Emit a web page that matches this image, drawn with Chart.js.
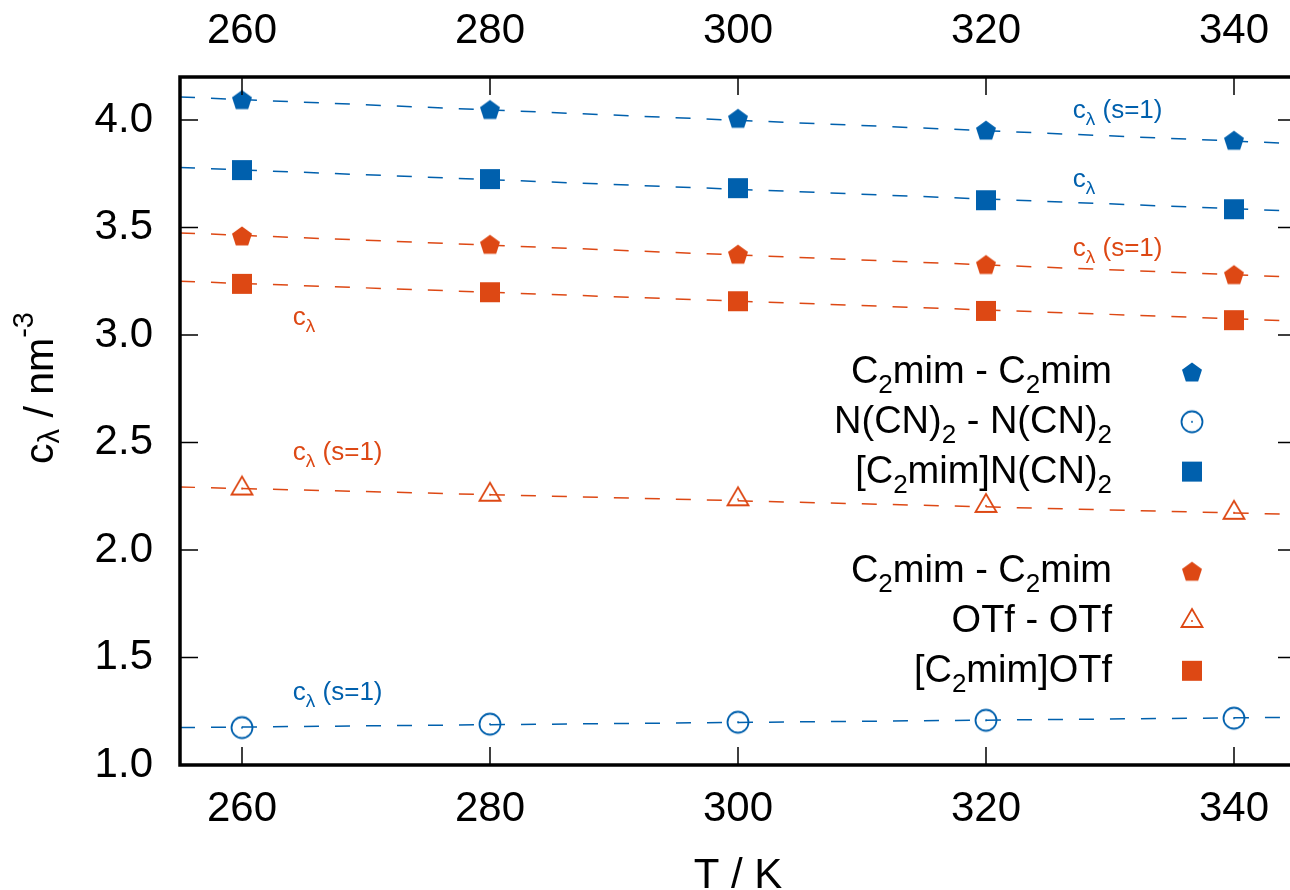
<!DOCTYPE html>
<html>
<head>
<meta charset="utf-8">
<script src="https://cdn.jsdelivr.net/npm/chart.js@4.4.1/dist/chart.umd.min.js"></script>
<style>
html, body { margin:0; padding:0; background:#fff; overflow:hidden; }
#wrap { position:relative; width:1290px; height:890px; }
#chart { display:block; }
</style>
</head>
<body>
<div id="wrap"><canvas id="chart" width="1290" height="890"></canvas></div>
<script>
// -----------------------------
// Data
// -----------------------------
const temps = [260, 280, 300, 320, 340];
const xTicks = [260, 280, 300, 320, 340];
const yTicks = [1.0, 1.5, 2.0, 2.5, 3.0, 3.5, 4.0];

// [C2mim]N(CN)2
const ncnCatCat = [4.095, 4.049, 4.008, 3.953, 3.906];
const ncnAnAn = [1.174, 1.190, 1.199, 1.208, 1.218];
const ncnSalt = [3.767, 3.725, 3.683, 3.627, 3.585];

// [C2mim]OTf
const otfCatCat = [3.461, 3.422, 3.376, 3.328, 3.281];
const otfAnAn = [2.286, 2.257, 2.236, 2.205, 2.173];
const otfSalt = [3.238, 3.199, 3.157, 3.112, 3.069];

// fit lines, values read at T = 255 and T = 345
const fitT = [255, 345];
const ncnCatCatFit = [4.107, 3.890];
const ncnAnAnFit = [1.174, 1.222];
const ncnSaltFit = [3.779, 3.576];
const otfCatCatFit = [3.475, 3.269];
const otfAnAnFit = [2.293, 2.165];
const otfSaltFit = [3.250, 3.065];

// the plot runs to 345 K, its right edge lies just outside the picture
const X_MIN = 255, X_FRAME_MAX = 345;
const FRAME_RIGHT = 1296;

const BLUE = "#0060ad";
const ORANGE = "#dd4814";
const FONT = "'Liberation Sans', Arial, Helvetica, sans-serif";

// -----------------------------
// Marker images
// -----------------------------
function makeMarker(kind, color) {
  const c = document.createElement("canvas");
  c.width = 30; c.height = 30;
  const g = c.getContext("2d");
  const cx = 15, cy = 15;
  g.fillStyle = color;
  g.strokeStyle = color;
  g.lineWidth = 1.8;
  if (kind === "pentagon") {
    g.beginPath();
    for (let k = 0; k < 5; k++) {
      const a = -Math.PI / 2 + k * 2 * Math.PI / 5;
      const px = cx + 10.5 * Math.cos(a), py = cy + 1 + 10.5 * Math.sin(a);
      if (k === 0) g.moveTo(px, py); else g.lineTo(px, py);
    }
    g.closePath();
    g.fill();
  } else if (kind === "square") {
    g.fillRect(cx - 10, cy - 10, 20, 20);
  } else if (kind === "circle") {
    g.beginPath();
    g.arc(cx, cy, 10.5, 0, Math.PI * 2);
    g.stroke();
    g.beginPath();
    g.arc(cx, cy, 1, 0, Math.PI * 2);
    g.fill();
  } else if (kind === "triangle") {
    g.beginPath();
    g.moveTo(cx, cy - 12);
    g.lineTo(cx + 10.5, cy + 6);
    g.lineTo(cx - 10.5, cy + 6);
    g.closePath();
    g.stroke();
    g.beginPath();
    g.arc(cx, cy, 1, 0, Math.PI * 2);
    g.fill();
  }
  return c;
}

const markers = {
  bluePent: makeMarker("pentagon", BLUE),
  blueCirc: makeMarker("circle", BLUE),
  blueSq: makeMarker("square", BLUE),
  orPent: makeMarker("pentagon", ORANGE),
  orTri: makeMarker("triangle", ORANGE),
  orSq: makeMarker("square", ORANGE)
};

function pts(xs, ys) {
  return xs.map((x, i) => ({ x: x, y: ys[i] }));
}

function markerSet(values, marker) {
  return {
    data: pts(temps, values),
    showLine: false,
    pointStyle: marker,
    pointRadius: 10,
    pointHoverRadius: 10
  };
}

function fitSet(values, color) {
  return {
    data: pts(fitT, values),
    showLine: true,
    borderColor: color,
    borderWidth: 1.5,
    borderDash: [15, 16],
    pointRadius: 0,
    pointHoverRadius: 0,
    clip: { left: 0, top: 0, right: 30, bottom: 0 }
  };
}

// -----------------------------
// Rich text helpers (sub / superscripts)
// -----------------------------
function richWidth(ctx, parts) {
  let w = 0;
  parts.forEach(p => {
    ctx.font = p[1] + "px " + FONT;
    w += ctx.measureText(p[0]).width;
  });
  return w;
}

function drawRich(ctx, parts, x, y, align, color) {
  const w = richWidth(ctx, parts);
  let cx = align === "right" ? x - w : (align === "center" ? x - w / 2 : x);
  ctx.fillStyle = color;
  ctx.textAlign = "left";
  ctx.textBaseline = "alphabetic";
  parts.forEach(p => {
    ctx.font = p[1] + "px " + FONT;
    ctx.fillText(p[0], cx, y + (p[2] || 0));
    cx += ctx.measureText(p[0]).width;
  });
}

const cl = [["c", 26], ["\u03bb", 19, 7]];
const clS1 = [["c", 26], ["\u03bb", 19, 7], [" (s=1)", 26]];

// annotation labels: [T, c, parts, colour]
const notes = [
  [327.0, 4.009, clS1, BLUE],
  [327.0, 3.688, cl, BLUE],
  [327.0, 3.367, clS1, ORANGE],
  [264.1, 3.047, cl, ORANGE],
  [264.1, 2.419, clS1, ORANGE],
  [264.1, 1.302, clS1, BLUE]
];

const legendRows = [
  [[["C", 38], ["2", 26, 10], ["mim - C", 38], ["2", 26, 10], ["mim", 38]], "bluePent"],
  [[["N(CN)", 38], ["2", 26, 10], [" - N(CN)", 38], ["2", 26, 10]], "blueCirc"],
  [[["[C", 38], ["2", 26, 10], ["mim]N(CN)", 38], ["2", 26, 10]], "blueSq"],
  null,
  [[["C", 38], ["2", 26, 10], ["mim - C", 38], ["2", 26, 10], ["mim", 38]], "orPent"],
  [[["OTf - OTf", 38]], "orTri"],
  [[["[C", 38], ["2", 26, 10], ["mim]OTf", 38]], "orSq"]
];

const framePlugin = {
  id: "frame",
  afterDatasetsDraw(chart) {
    const ctx = chart.ctx;
    const a = chart.chartArea;
    const sx = chart.scales.x, sy = chart.scales.y;
    const right = sx.getPixelForValue(X_FRAME_MAX);
    ctx.save();
    ctx.strokeStyle = "#000";
    ctx.lineWidth = 1.5;
    ctx.beginPath();
    xTicks.forEach(v => {
      const px = sx.getPixelForValue(v);
      ctx.moveTo(px, a.bottom); ctx.lineTo(px, a.bottom - 18);
      ctx.moveTo(px, a.top); ctx.lineTo(px, a.top + 18);
    });
    yTicks.forEach(v => {
      const py = sy.getPixelForValue(v);
      ctx.moveTo(a.left, py); ctx.lineTo(a.left + 18, py);
      ctx.moveTo(right, py); ctx.lineTo(right - 18, py);
    });
    ctx.stroke();
    ctx.lineWidth = 3.5;
    ctx.strokeRect(a.left, a.top, right - a.left, a.bottom - a.top);
    ctx.restore();
  },
  afterDraw(chart) {
    const ctx = chart.ctx;
    const a = chart.chartArea;
    const sx = chart.scales.x, sy = chart.scales.y;
    const right = sx.getPixelForValue(X_FRAME_MAX);
    ctx.save();
    // annotations
    notes.forEach(n => {
      drawRich(ctx, n[2], sx.getPixelForValue(n[0]), sy.getPixelForValue(n[1]), "left", n[3]);
    });
    // legend
    legendRows.forEach((row, i) => {
      if (!row) return;
      const base = 383 + i * 49.8;
      drawRich(ctx, row[0], 1112, base, "right", "#000");
      const m = markers[row[1]];
      ctx.drawImage(m, 1192 - m.width / 2, base - 11 - m.height / 2);
    });
    // axis titles
    drawRich(ctx, [["T / K", 42]], (a.left + right) / 2, 888, "center", "#000");
    ctx.translate(53, 388);
    ctx.rotate(-Math.PI / 2);
    drawRich(ctx, [["c", 41], ["\u03bb", 29, 6], [" / nm", 41], ["-3", 29, -20]], 0, 0, "center", "#000");
    ctx.restore();
  }
};

const tickFont = { family: FONT, size: 42 };

function noPad(s) {
  s.paddingLeft = 0; s.paddingRight = 0; s.paddingTop = 0; s.paddingBottom = 0;
}

const chart = new Chart(document.getElementById("chart"), {
  type: "scatter",
  data: {
    datasets: [
      markerSet(ncnCatCat, markers.bluePent),
      markerSet(ncnAnAn, markers.blueCirc),
      markerSet(ncnSalt, markers.blueSq),
      markerSet(otfCatCat, markers.orPent),
      markerSet(otfAnAn, markers.orTri),
      markerSet(otfSalt, markers.orSq),
      fitSet(ncnCatCatFit, BLUE),
      fitSet(ncnAnAnFit, BLUE),
      fitSet(ncnSaltFit, BLUE),
      fitSet(otfCatCatFit, ORANGE),
      fitSet(otfAnAnFit, ORANGE),
      fitSet(otfSaltFit, ORANGE)
    ]
  },
  options: {
    responsive: false,
    maintainAspectRatio: false,
    animation: false,
    devicePixelRatio: 1,
    events: [],
    layout: { padding: 0 },
    plugins: {
      legend: { display: false },
      tooltip: { enabled: false }
    },
    scales: {
      x: {
        type: "linear", position: "bottom", min: X_MIN, max: 344.5,
        grid: { display: false, drawTicks: false },
        border: { display: false },
        afterBuildTicks: s => { s.ticks = xTicks.map(v => ({ value: v })); },
        afterFit: s => { s.height = 125; noPad(s); },
        ticks: { color: "#000", font: tickFont, padding: 19, maxRotation: 0 }
      },
      x2: {
        type: "linear", position: "top", min: X_MIN, max: 344.5,
        grid: { display: false, drawTicks: false },
        border: { display: false },
        afterBuildTicks: s => { s.ticks = xTicks.map(v => ({ value: v })); },
        afterFit: s => { s.height = 77; noPad(s); },
        ticks: { color: "#000", font: tickFont, padding: 20, maxRotation: 0 }
      },
      y: {
        type: "linear", position: "left", min: 1.0, max: 4.2,
        grid: { display: false, drawTicks: false },
        border: { display: false },
        afterBuildTicks: s => { s.ticks = yTicks.map(v => ({ value: v })); },
        afterFit: s => { s.width = 180; noPad(s); },
        ticks: { color: "#000", font: tickFont, padding: 27, callback: v => v.toFixed(1) }
      }
    }
  },
  plugins: [framePlugin]
});

// whatever margin Chart.js keeps on the right, stretch the T range so that
// 345 K lands on FRAME_RIGHT (just off the canvas, as in the original)
for (let k = 0; k < 4; k++) {
  const a = chart.chartArea;
  const viewMax = X_MIN + (a.right - a.left) * (X_FRAME_MAX - X_MIN) / (FRAME_RIGHT - a.left);
  if (Math.abs(viewMax - chart.options.scales.x.max) < 0.005) break;
  chart.options.scales.x.max = viewMax;
  chart.options.scales.x2.max = viewMax;
  chart.update();
}
</script>
</body>
</html>
